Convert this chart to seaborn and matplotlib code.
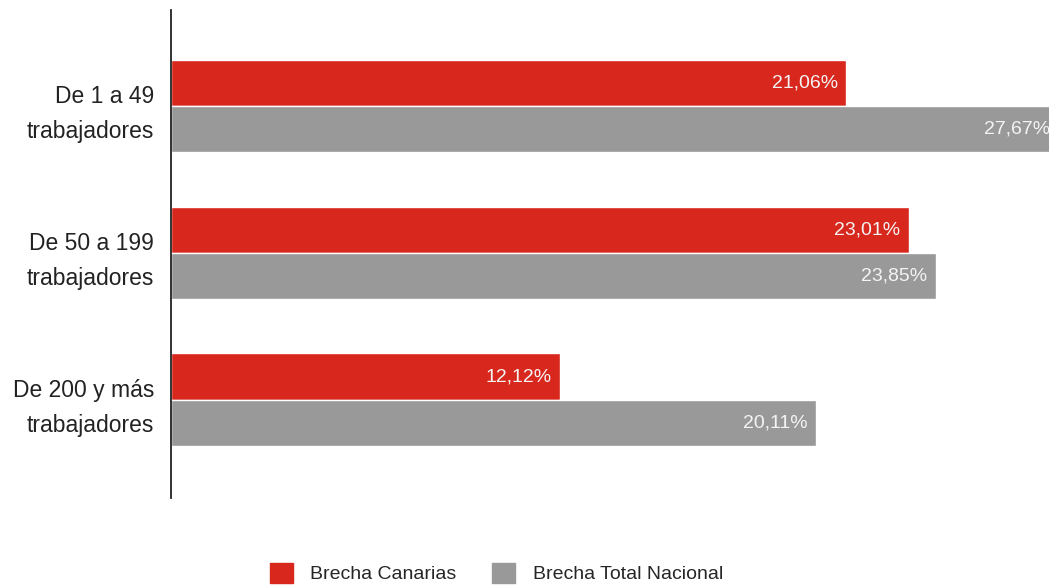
import pandas as pd
import matplotlib.pyplot as plt
import seaborn as sns

categorias = ['De 1 a 49\ntrabajadores', 'De 50 a 199\ntrabajadores', 'De 200 y más\ntrabajadores']
brecha_canarias = [21.06, 23.01, 12.12]
brecha_nacional = [27.67, 23.85, 20.11]
series = ['Brecha Canarias', 'Brecha Total Nacional']
colores = ['#D8281E', '#999999']

df = pd.DataFrame({
    'categoria': categorias * 2,
    'valor': brecha_canarias + brecha_nacional,
    'serie': [series[0]] * 3 + [series[1]] * 3,
})

sns.set_style('white')
plt.rcParams['font.family'] = ['Liberation Sans', 'DejaVu Sans']

fig = plt.figure(figsize=(10.49, 5.87), dpi=100)
ax = fig.add_axes([0.163, 0.152, 0.837, 0.831])

sns.barplot(data=df, y='categoria', x='valor', hue='serie', hue_order=series,
            palette=colores, orient='h', width=0.63, dodge=True,
            edgecolor='white', linewidth=1, saturation=1, ax=ax, legend=False)

ax.set_xlim(0, 27.39)
ax.set_ylim(2.667, -0.653)

# etiquetas dentro de las barras
for cont in ax.containers:
    for bar, v in zip(cont, cont.datavalues):
        ax.text(bar.get_width() - 0.25, bar.get_y() + bar.get_height() / 2,
                f'{v:.2f}'.replace('.', ',') + '%', ha='right', va='center',
                color='#f4f4f4', fontsize=14, clip_on=False)

for s in ['top', 'right', 'bottom']:
    ax.spines[s].set_visible(False)
ax.spines['left'].set_color('#222222')
ax.spines['left'].set_linewidth(1.3)
ax.set_xticks([])
ax.set_xlabel('')
ax.set_ylabel('')
ax.tick_params(axis='y', length=0, pad=12, labelsize=16.5)
for lbl in ax.get_yticklabels():
    lbl.set_multialignment('right')
    lbl.set_linespacing(1.65)
    lbl.set_color('#222222')

handles = [plt.Rectangle((0, 0), 1, 1, color=c) for c in colores]
fig.legend(handles, series, loc='center', bbox_to_anchor=(0.473, 0.024), ncol=2,
           frameon=False, fontsize=14, handlelength=1.2, handleheight=1.2,
           handletextpad=0.9, columnspacing=1.8)

fig.savefig('out.png', dpi=100)
